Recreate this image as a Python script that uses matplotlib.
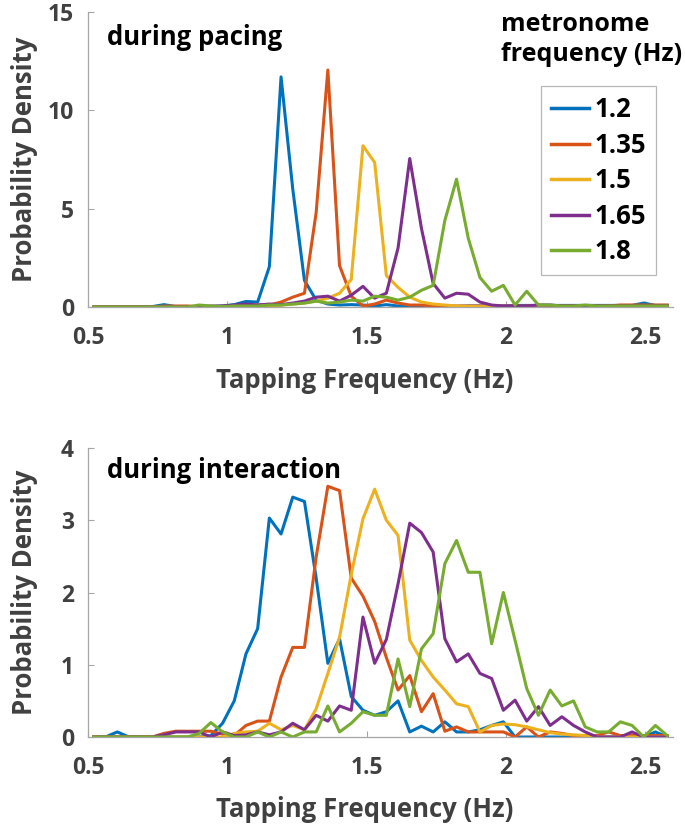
import matplotlib
matplotlib.use("Agg")
import matplotlib.pyplot as plt

plt.rcParams['font.family'] = ['Open Sans', 'DejaVu Sans']
plt.rcParams['font.weight'] = 'bold'

# bin centres of the tapping-frequency histograms (Hz)
freq_bins = [0.521, 0.563, 0.605, 0.647, 0.689, 0.731, 0.773, 0.815, 0.857, 0.899,
             0.941, 0.983, 1.025, 1.067, 1.109, 1.151, 1.193, 1.235, 1.277, 1.319,
             1.361, 1.403, 1.445, 1.487, 1.529, 1.571, 1.613, 1.655, 1.697, 1.739,
             1.781, 1.823, 1.865, 1.907, 1.949, 1.991, 2.033, 2.075, 2.117, 2.159,
             2.201, 2.243, 2.285, 2.327, 2.369, 2.411, 2.453, 2.495, 2.537, 2.579]

metronome_labels = ['1.2', '1.35', '1.5', '1.65', '1.8']

# probability density during pacing
pacing_12 = [0, 0, 0, 0, 0, 0.02, 0.12, 0.02, 0, 0,
             0.02, 0.05, 0.12, 0.28, 0.25, 2.05, 11.7, 6.0, 1.35, 0.35,
             0.15, 0.1, 0.12, 0.1, 0.05, 0.12, 0.05, 0.02, 0.03, 0.03,
             0.03, 0.03, 0.05, 0.05, 0.05, 0.05, 0.08, 0.08, 0.08, 0.08,
             0.08, 0.08, 0.08, 0.08, 0.08, 0.08, 0.08, 0.2, 0.08, 0.08]
pacing_135 = [0, 0, 0, 0, 0, 0, 0.05, 0.05, 0.05, 0.02,
              0.02, 0.03, 0.05, 0.05, 0.1, 0.1, 0.25, 0.5, 0.7, 4.8,
              12.05, 2.1, 0.55, 0.05, 0.15, 0.35, 0.2, 0.1, 0.1, 0.05,
              0.05, 0.05, 0.05, 0.05, 0.05, 0.05, 0.05, 0.05, 0.05, 0.05,
              0.05, 0.05, 0.05, 0.05, 0.05, 0.1, 0.1, 0.1, 0.1, 0.1]
pacing_15 = [0, 0, 0, 0, 0, 0, 0, 0, 0, 0,
             0.02, 0.02, 0.03, 0.03, 0.05, 0.05, 0.1, 0.15, 0.2, 0.3,
             0.45, 0.7, 1.4, 8.2, 7.35, 1.6, 1.0, 0.5, 0.25, 0.15,
             0.1, 0.05, 0.03, 0.02, 0.02, 0.02, 0.02, 0.02, 0.02, 0.02,
             0.02, 0.02, 0.02, 0.02, 0.02, 0.02, 0.02, 0.02, 0.02, 0.02]
pacing_165 = [0, 0, 0, 0, 0, 0, 0, 0, 0, 0.02,
              0.05, 0.05, 0.1, 0.15, 0.1, 0.15, 0.12, 0.2, 0.3, 0.5,
              0.55, 0.3, 0.6, 1.05, 0.45, 0.7, 3.0, 7.55, 4.0, 1.2,
              0.45, 0.7, 0.65, 0.25, 0.1, 0.05, 0.05, 0.05, 0.1, 0.1,
              0.05, 0.05, 0.05, 0.05, 0.05, 0.05, 0.05, 0.05, 0.05, 0.05]
pacing_18 = [0, 0, 0, 0, 0, 0, 0, 0, 0, 0.1,
             0.05, 0.02, 0.05, 0.05, 0.05, 0.1, 0.1, 0.15, 0.2, 0.3,
             0.2, 0.25, 0.35, 0.3, 0.55, 0.5, 0.35, 0.5, 0.85, 1.1,
             4.4, 6.5, 3.5, 1.5, 0.8, 1.1, 0.1, 0.8, 0.1, 0.1,
             0.05, 0.05, 0.1, 0.05, 0.05, 0.05, 0.05, 0.05, 0.05, 0.05]

# probability density during interaction
inter_12 = [0, 0, 0.07, 0, 0, 0, 0, 0, 0, 0,
            0.02, 0.19, 0.5, 1.15, 1.5, 3.03, 2.81, 3.32, 3.26, 2.2,
            1.02, 1.36, 0.56, 0.37, 0.3, 0.35, 0.5, 0.07, 0.15, 0.07,
            0.21, 0.07, 0.07, 0.1, 0.16, 0.21, 0, 0, 0, 0,
            0, 0, 0, 0, 0, 0, 0, 0, 0.07, 0]
inter_135 = [0, 0, 0, 0, 0, 0, 0.05, 0.08, 0.08, 0.08,
             0.08, 0.04, 0.02, 0.16, 0.22, 0.22, 0.83, 1.24, 1.24, 2.49,
             3.47, 3.41, 2.2, 1.95, 1.6, 1.1, 0.65, 0.85, 0.35, 0.6,
             0.08, 0.14, 0.07, 0.07, 0.07, 0.07, 0, 0.14, 0, 0.07,
             0.05, 0.02, 0.02, 0.02, 0.07, 0.02, 0.02, 0.02, 0.02, 0.02]
inter_15 = [0, 0, 0, 0, 0, 0, 0, 0, 0, 0,
            0, 0, 0.05, 0.07, 0.08, 0.19, 0.1, 0.16, 0.1, 0.39,
            0.88, 1.38, 2.25, 3.02, 3.43, 3.0, 2.79, 1.34, 1.06, 0.83,
            0.65, 0.46, 0.42, 0.07, 0.16, 0.18, 0.17, 0.14, 0.1, 0.06,
            0.04, 0.03, 0.02, 0, 0, 0, 0, 0, 0, 0]
inter_165 = [0, 0, 0, 0, 0, 0, 0.03, 0.07, 0.07, 0.07,
             0, 0.07, 0.02, 0.03, 0.07, 0.03, 0.07, 0.19, 0.1, 0.3,
             0.22, 0.43, 0.37, 1.66, 1.02, 1.35, 2.12, 2.96, 2.83, 2.56,
             1.36, 1.04, 1.15, 0.88, 0.81, 0.37, 0.51, 0.22, 0.42, 0.16,
             0.28, 0.16, 0.07, 0, 0, 0, 0.07, 0, 0, 0]
inter_18 = [0, 0, 0, 0, 0, 0, 0, 0, 0, 0.05,
            0.2, 0.07, 0, 0, 0.07, 0, 0.07, 0, 0.07, 0.07,
            0.43, 0.07, 0.19, 0.35, 0.3, 0.3, 1.08, 0.42, 1.22, 1.43,
            2.4, 2.72, 2.28, 2.28, 1.29, 2.0, 1.34, 0.67, 0.3, 0.65,
            0.43, 0.5, 0.14, 0.07, 0.07, 0.21, 0.16, 0, 0.16, 0.02]

colors = ['#0072BD', '#D95319', '#EDB120', '#7E2F8E', '#77AC30']
axis_grey = '#a6a6a6'
text_grey = '#404040'
tick_fs = 16.5
fs = 18.5

fig = plt.figure(figsize=(6.85, 8.31), dpi=100)
ax1 = fig.add_axes([88 / 685, 1 - 307 / 831, 585 / 685, 295 / 831])
ax2 = fig.add_axes([88 / 685, 1 - 737 / 831, 585 / 685, 289 / 831])


def style_axes(ax, ymax, yticks):
    ax.set_xlim(0.5, 2.6)
    ax.set_ylim(0, ymax)
    ax.set_xticks([0.5, 1, 1.5, 2, 2.5])
    ax.set_xticklabels(['0.5', '1', '1.5', '2', '2.5'])
    ax.set_yticks(yticks)
    for side in ['top', 'right']:
        ax.spines[side].set_visible(False)
    for side in ['left', 'bottom']:
        ax.spines[side].set_color(axis_grey)
        ax.spines[side].set_linewidth(0.9)
    ax.tick_params(direction='in', length=4, width=0.8, color=axis_grey,
                   labelcolor=text_grey, labelsize=tick_fs)
    ax.tick_params(axis='x', pad=14)
    ax.tick_params(axis='y', pad=10)
    ax.set_xlabel('Tapping Frequency (Hz)', fontsize=fs, color=text_grey,
                  fontweight='bold')
    ax.set_ylabel('Probability Density', fontsize=fs, color=text_grey,
                  fontweight='bold')
    ax.xaxis.set_label_coords(0.473, -0.205)
    ax.yaxis.set_label_coords(-0.085, 0.5)


# Top: during pacing
for series, c, lab in zip([pacing_12, pacing_135, pacing_15, pacing_165, pacing_18],
                          colors, metronome_labels):
    ax1.plot(freq_bins, series, color=c, linewidth=2.2, label=lab)
style_axes(ax1, 15, [0, 5, 10, 15])
ax1.text(0.033, 0.913, 'during pacing', transform=ax1.transAxes, fontsize=fs,
         fontweight='bold', color='black', va='center', ha='left')

leg = ax1.legend(loc='upper left', bbox_to_anchor=(541 / 685, 1 - 86 / 831),
                 bbox_transform=fig.transFigure, fontsize=fs, frameon=True,
                 fancybox=False, edgecolor=axis_grey, handlelength=1.48,
                 handletextpad=0.2, labelspacing=0.33, borderpad=0.4,
                 borderaxespad=0)
leg.get_frame().set_linewidth(0.9)
for line in leg.get_lines():
    line.set_linewidth(2.5)

# legend title sits above the box, as two lines of plain text
fig.text(501 / 685, 1 - 12 / 831, 'metronome\nfrequency (Hz)', fontsize=18,
         fontweight='bold', color='black', ha='left', va='top', linespacing=1.28)

# Bottom: during interaction
for series, c in zip([inter_12, inter_135, inter_15, inter_165, inter_18], colors):
    ax2.plot(freq_bins, series, color=c, linewidth=2.2)
style_axes(ax2, 4, [0, 1, 2, 3, 4])
ax2.text(0.033, 0.922, 'during interaction', transform=ax2.transAxes, fontsize=fs,
         fontweight='bold', color='black', va='center', ha='left')

fig.savefig('out.png', dpi=100)
